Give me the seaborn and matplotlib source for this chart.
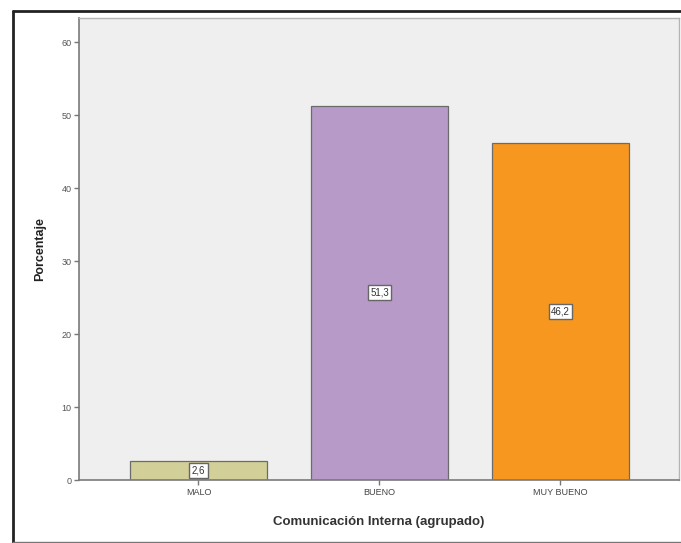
import matplotlib
matplotlib.use("Agg")
import matplotlib.pyplot as plt
from matplotlib.lines import Line2D
import pandas as pd
import seaborn as sns

# datos
categorias = ["MALO", "BUENO", "MUY BUENO"]
porcentajes = [2.6, 51.3, 46.2]
etiquetas = ["2,6", "51,3", "46,2"]
colores = ["#d3cf98", "#b79ac8", "#f7971f"]
yticks = [0, 10, 20, 30, 40, 50, 60]

df = pd.DataFrame({"cat": categorias, "pct": porcentajes})

sns.set_style("white")
plt.rcParams["font.family"] = ["Liberation Sans", "DejaVu Sans"]

fig = plt.figure(figsize=(6.81, 5.43), dpi=100)
ax = fig.add_axes([79 / 681, 1 - 480 / 543, 600 / 681, 462 / 543])
ax.set_facecolor("#efefef")

sns.barplot(data=df, x="cat", y="pct", hue="cat", palette=colores, order=categorias,
            width=0.757, saturation=1, edgecolor="#6b6b6b", linewidth=0.9,
            legend=False, ax=ax)

# etiquetas de valor al centro de cada barra
for i, (v, t) in enumerate(zip(porcentajes, etiquetas)):
    ax.text(i, v / 2, t, ha="center", va="center", fontsize=7, color="#333333",
            bbox=dict(boxstyle="square,pad=0.25", fc="white", ec="#666666", lw=1))

ax.set_xlim(-0.66, 2.655)
ax.set_ylim(0, 63.3)
ax.set_yticks(yticks)
ax.set_yticklabels([str(t) for t in yticks], fontsize=6.5, color="#555555")
ax.set_xticks(range(len(categorias)))
ax.set_xticklabels(categorias, fontsize=6.5, color="#444444")
ax.tick_params(axis="both", direction="out", length=3.5, width=1, color="#777777",
               left=True, bottom=True, pad=2)

for s in ["left", "bottom"]:
    ax.spines[s].set_color("#7a7a7a")
    ax.spines[s].set_linewidth(1.2)
for s in ["top", "right"]:
    ax.spines[s].set_color("#b5b5b5")
    ax.spines[s].set_linewidth(1)

ax.set_xlabel("Comunicación Interna (agrupado)", fontsize=9.5, fontweight="bold",
              color="#333333", labelpad=14)
ax.set_ylabel("Porcentaje", fontsize=9, fontweight="bold", color="#222222", labelpad=11)

# marco exterior de la figura
fig.add_artist(Line2D([13 / 681, 13 / 681], [1 - 11 / 543, 1 - 542 / 543],
                      transform=fig.transFigure, color="#222222", lw=2))
fig.add_artist(Line2D([13 / 681, 1], [1 - 11 / 543, 1 - 11 / 543],
                      transform=fig.transFigure, color="#222222", lw=2))
fig.add_artist(Line2D([13 / 681, 1], [1 - 542 / 543, 1 - 542 / 543],
                      transform=fig.transFigure, color="#777777", lw=1))

fig.savefig("out.png", dpi=100)
